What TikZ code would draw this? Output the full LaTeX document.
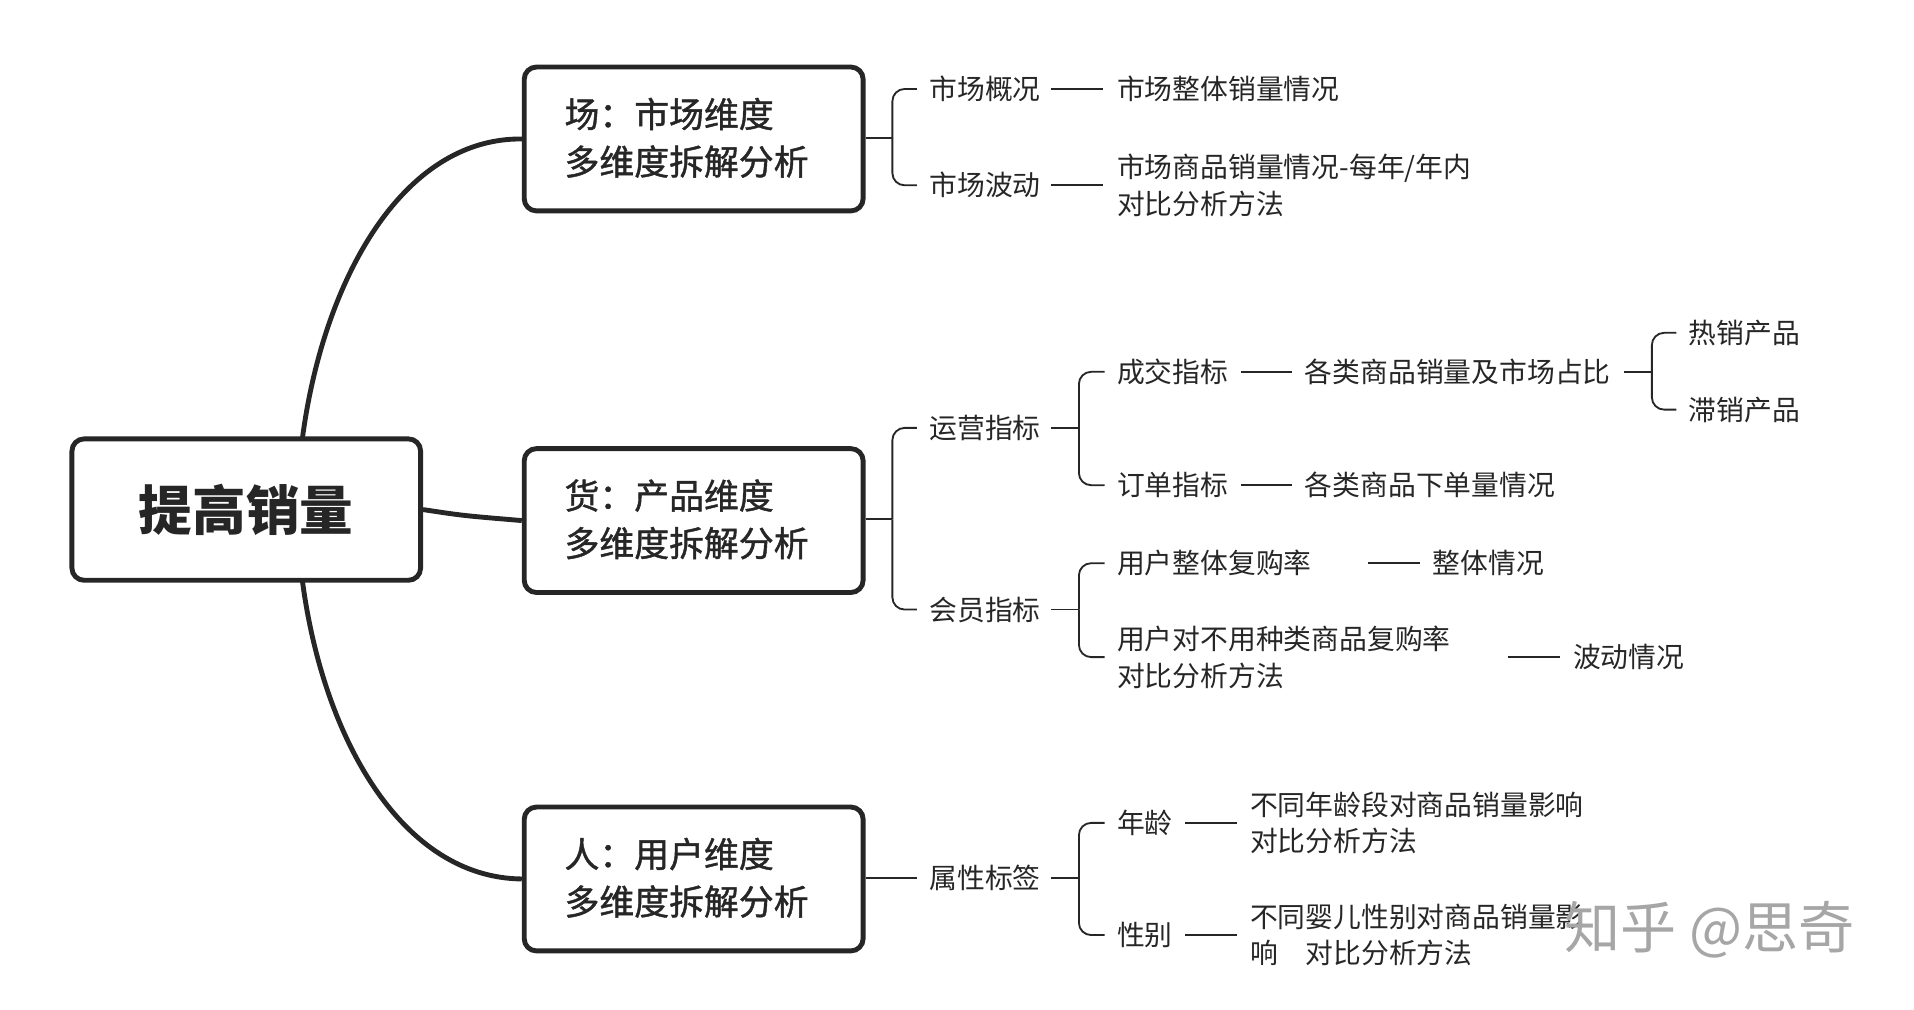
\documentclass[tikz,border=0pt]{standalone}
\usepackage{fontspec}
\setmainfont{Noto Sans CJK SC}
\newfontfamily\medfont[FakeBold=1.2]{Noto Sans CJK SC}
\begin{document}
\begin{tikzpicture}[x=0.5pt,y=-0.5pt,
  ln/.style={line width=0.75pt,draw=black!85},
  br/.style={ln,rounded corners=5pt},
  box/.style={draw=black!85,line width=2pt,rounded corners=5pt,minimum width=139pt,minimum height=59pt,inner sep=0},
  t/.style={anchor=west,inner sep=0,font=\fontsize{11.4}{15}\selectfont,text=black!85,align=left},
  bt/.style={font=\fontsize{14.3}{19.5}\medfont,text=black!85,align=left}]
\useasboundingbox (0,0) rectangle (1570,828);
% root and boxes
\node[box,minimum width=143pt,minimum height=58pt,font=\fontsize{22}{26}\selectfont\bfseries,text=black!85] (root) at (202,418) {提高销量};
\node[box] (b1) at (569,114) {};
\node[box] (b2) at (569,427) {};
\node[box] (b3) at (569,721) {};
\node[bt,anchor=west] at (456,113) {场：市场维度\\多维度拆解分析};
\node[bt,anchor=west] at (456,426) {货：产品维度\\多维度拆解分析};
\node[bt,anchor=west] at (456,720) {人：用户维度\\多维度拆解分析};
\draw[line width=2pt,black!85] (248,360) .. controls (265,230) and (330,113) .. (b1.west);
\draw[line width=2pt,black!85] (root.east) .. controls (380,423) .. (b2.west);
\draw[line width=2pt,black!85] (248,476) .. controls (265,606) and (330,720) .. (b3.west);
% level 2 texts
\node[t] (m1) at (762,73) {市场概况};
\node[t] (m2) at (762,152) {市场波动};
\node[t] (m1a) at (916,73) {市场整体销量情况};
\node[t] (m2a) at (916,152) {市场商品销量情况-每年/年内\\对比分析方法};
\node[t] (g1) at (762,351) {运营指标};
\node[t] (g2) at (762,500) {会员指标};
\node[t] (g11) at (916,305) {成交指标};
\node[t] (g12) at (916,398) {订单指标};
\node[t] (g11a) at (1070,305) {各类商品销量及市场占比};
\node[t] (g12a) at (1070,398) {各类商品下单量情况};
\node[t] (h1) at (1385,273) {热销产品};
\node[t] (h2) at (1385,336) {滞销产品};
\node[t] (g21) at (916,462) {用户整体复购率};
\node[t] (g22) at (916,539) {用户对不用种类商品复购率\\对比分析方法};
\node[t] (g21a) at (1175,462) {整体情况};
\node[t] (g22a) at (1290,539) {波动情况};
\node[t] (r1) at (762,720) {属性标签};
\node[t] (r11) at (916,675) {年龄};
\node[t] (r12) at (916,767) {性别};
\node[t] (r11a) at (1025,675) {不同年龄段对商品销量影响\\对比分析方法};
\node[t] (r12a) at (1025,767) {不同婴儿性别对商品销量影\\响\hspace{1em}对比分析方法};
% brackets
\draw[ln] (b1.east|-0,113) -- (732,113);
\draw[br] (732,113) |- ([xshift=-5pt]m1.west);
\draw[br] (732,113) |- ([xshift=-5pt]m2.west);
\draw[ln] (b2.east|-0,426) -- (732,426);
\draw[br] (732,426) |- ([xshift=-5pt]g1.west);
\draw[br] (732,426) |- ([xshift=-5pt]g2.west);
\draw[ln] (b3.east|-0,720) -- ([xshift=-5pt]r1.west);
\draw[ln] (862,73) -- (905,73);
\draw[ln] (862,152) -- (905,152);
\draw[ln] (862,351) -- (885,351);
\draw[br] (885,351) |- ([xshift=-5pt]g11.west);
\draw[br] (885,351) |- ([xshift=-5pt]g12.west);
\draw[ln] (862,500) -- (885,500);
\draw[br] (885,500) |- ([xshift=-5pt]g21.west);
\draw[br] (885,500) |- ([xshift=-5pt]g22.west);
\draw[ln] (862,720) -- (885,720);
\draw[br] (885,720) |- ([xshift=-5pt]r11.west);
\draw[br] (885,720) |- ([xshift=-5pt]r12.west);
\draw[ln] (1018,305) -- (1060,305);
\draw[ln] (1018,398) -- (1060,398);
\draw[ln] (1332,305) -- (1355,305);
\draw[br] (1355,305) |- ([xshift=-5pt]h1.west);
\draw[br] (1355,305) |- ([xshift=-5pt]h2.west);
\draw[ln] (1122,462) -- (1165,462);
\draw[ln] (1237,539) -- (1280,539);
\draw[ln] (972,675) -- (1015,675);
\draw[ln] (972,767) -- (1015,767);
% watermark
\node[anchor=west,inner sep=0,font=\fontsize{23}{26}\selectfont,text=black!35] (wm) at (1283,763) {知乎 @思奇};
\end{tikzpicture}
\end{document}
